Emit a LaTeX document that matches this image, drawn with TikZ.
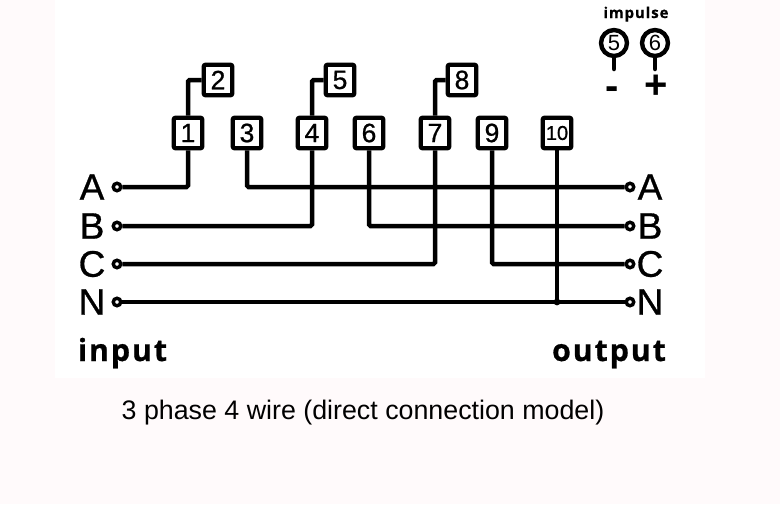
\documentclass[tikz,border=0pt]{standalone}
\usepackage{fontspec}
\setmainfont{Liberation Sans}
\newfontfamily\heavyfam[FakeBold=0.8]{Liberation Sans}
\newfontfamily\boldfam[LetterSpace=6,FakeBold=0.6]{Open Sans}
\definecolor{paper}{HTML}{FFFAFB}
\newcommand{\fs}[1]{\fontsize{#1}{#1}\selectfont}
\tikzstyle{terminal} = [rectangle, rounded corners=2pt, minimum width=28.5pt, minimum height=30.5pt, inner sep=0pt, text centered, draw=black, line width=4.4pt, fill=white, font=\heavyfam\fs{26.5}]
\tikzstyle{port} = [circle, minimum size=7.5pt, inner sep=0pt, draw=black, line width=3.4pt, fill=white]
\tikzstyle{phase} = [inner sep=0pt, font=\heavyfam\fs{37}]
\tikzstyle{pulse} = [circle, minimum size=26pt, inner sep=0pt, draw=black, line width=4.4pt, font=\fs{22}]
\tikzstyle{wire} = [line width=4.5pt, rounded corners=1.5pt]
\tikzstyle{title} = [inner sep=0pt, anchor=base, font=\boldfam\bfseries\fs{30.5}]

\begin{document}
\begin{tikzpicture}[x=1pt,y=-1pt]
\useasboundingbox (0,0) rectangle (780,504);
\fill[paper] (0,0) rectangle (780,504);
\fill[white] (55,0) rectangle (705,378);

\node (t1) [terminal] at (188,133) {1};
\node (t2) [terminal] at (218,80) {2};
\node (t3) [terminal] at (247,133) {3};
\node (t4) [terminal] at (312,133) {4};
\node (t5) [terminal] at (340,80) {5};
\node (t6) [terminal] at (369,133) {6};
\node (t7) [terminal] at (435,133) {7};
\node (t8) [terminal] at (462,80) {8};
\node (t9) [terminal] at (492,133) {9};
\node (t10) [terminal, font=\heavyfam\fs{20}] at (557,133) {10};

\node (inA) [port] at (117,187) {};
\node (inB) [port] at (117,226) {};
\node (inC) [port] at (117,264) {};
\node (inN) [port] at (117,302) {};
\node (outA) [port] at (630,187) {};
\node (outB) [port] at (630,226) {};
\node (outC) [port] at (630,264) {};
\node (outN) [port] at (630,302) {};

\node (labinA) [phase] at (92,187) {A};
\node (labinB) [phase] at (92,226) {B};
\node (labinC) [phase] at (92,264) {C};
\node (labinN) [phase] at (92,302) {N};
\node (laboutA) [phase] at (650,187) {A};
\node (laboutB) [phase] at (650,226) {B};
\node (laboutC) [phase] at (650,264) {C};
\node (laboutN) [phase] at (650,302) {N};

\node (input) [title] at (122.5,361) {input};
\node (output) [title] at (609,361) {output};
\node (caption) [inner sep=0pt, font=\fs{26.8}] at (363,413) {3 phase 4 wire (direct connection model)};

\node (impulse) [inner sep=0pt, anchor=base, font=\boldfam\bfseries\fs{15}] at (636,18) {impulse};
\node (p5) [pulse] at (614,43) {5};
\node (p6) [pulse] at (655,43) {6};
\node (minus) [inner sep=0pt, font=\bfseries\fs{40}] at (612,93) {-};
\node (plus) [inner sep=0pt, font=\bfseries\fs{40}] at (656,87) {+};
\coordinate (s5) at (614,69);
\coordinate (s6) at (655,69);

\draw [wire] (t1.north) |- (t2.west);
\draw [wire] (t4.north) |- (t5.west);
\draw [wire] (t7.north) |- (t8.west);
\draw [wire] (inA.east) -| (t1.south);
\draw [wire] (inB.east) -| (t4.south);
\draw [wire] (inC.east) -| (t7.south);
\draw [wire] (t3.south) |- (outA.west);
\draw [wire] (t6.south) |- (outB.west);
\draw [wire] (t9.south) |- (outC.west);
\draw [wire] (inN.east) -- (outN.west);
\coordinate (join) at (t10.south |- outN.west);
\draw [wire] (t10.south) -- (join);
\fill (join) circle (3.4pt);
\draw [wire, line cap=round] (p5.south) -- (s5);
\draw [wire, line cap=round] (p6.south) -- (s6);
\end{tikzpicture}
\end{document}
